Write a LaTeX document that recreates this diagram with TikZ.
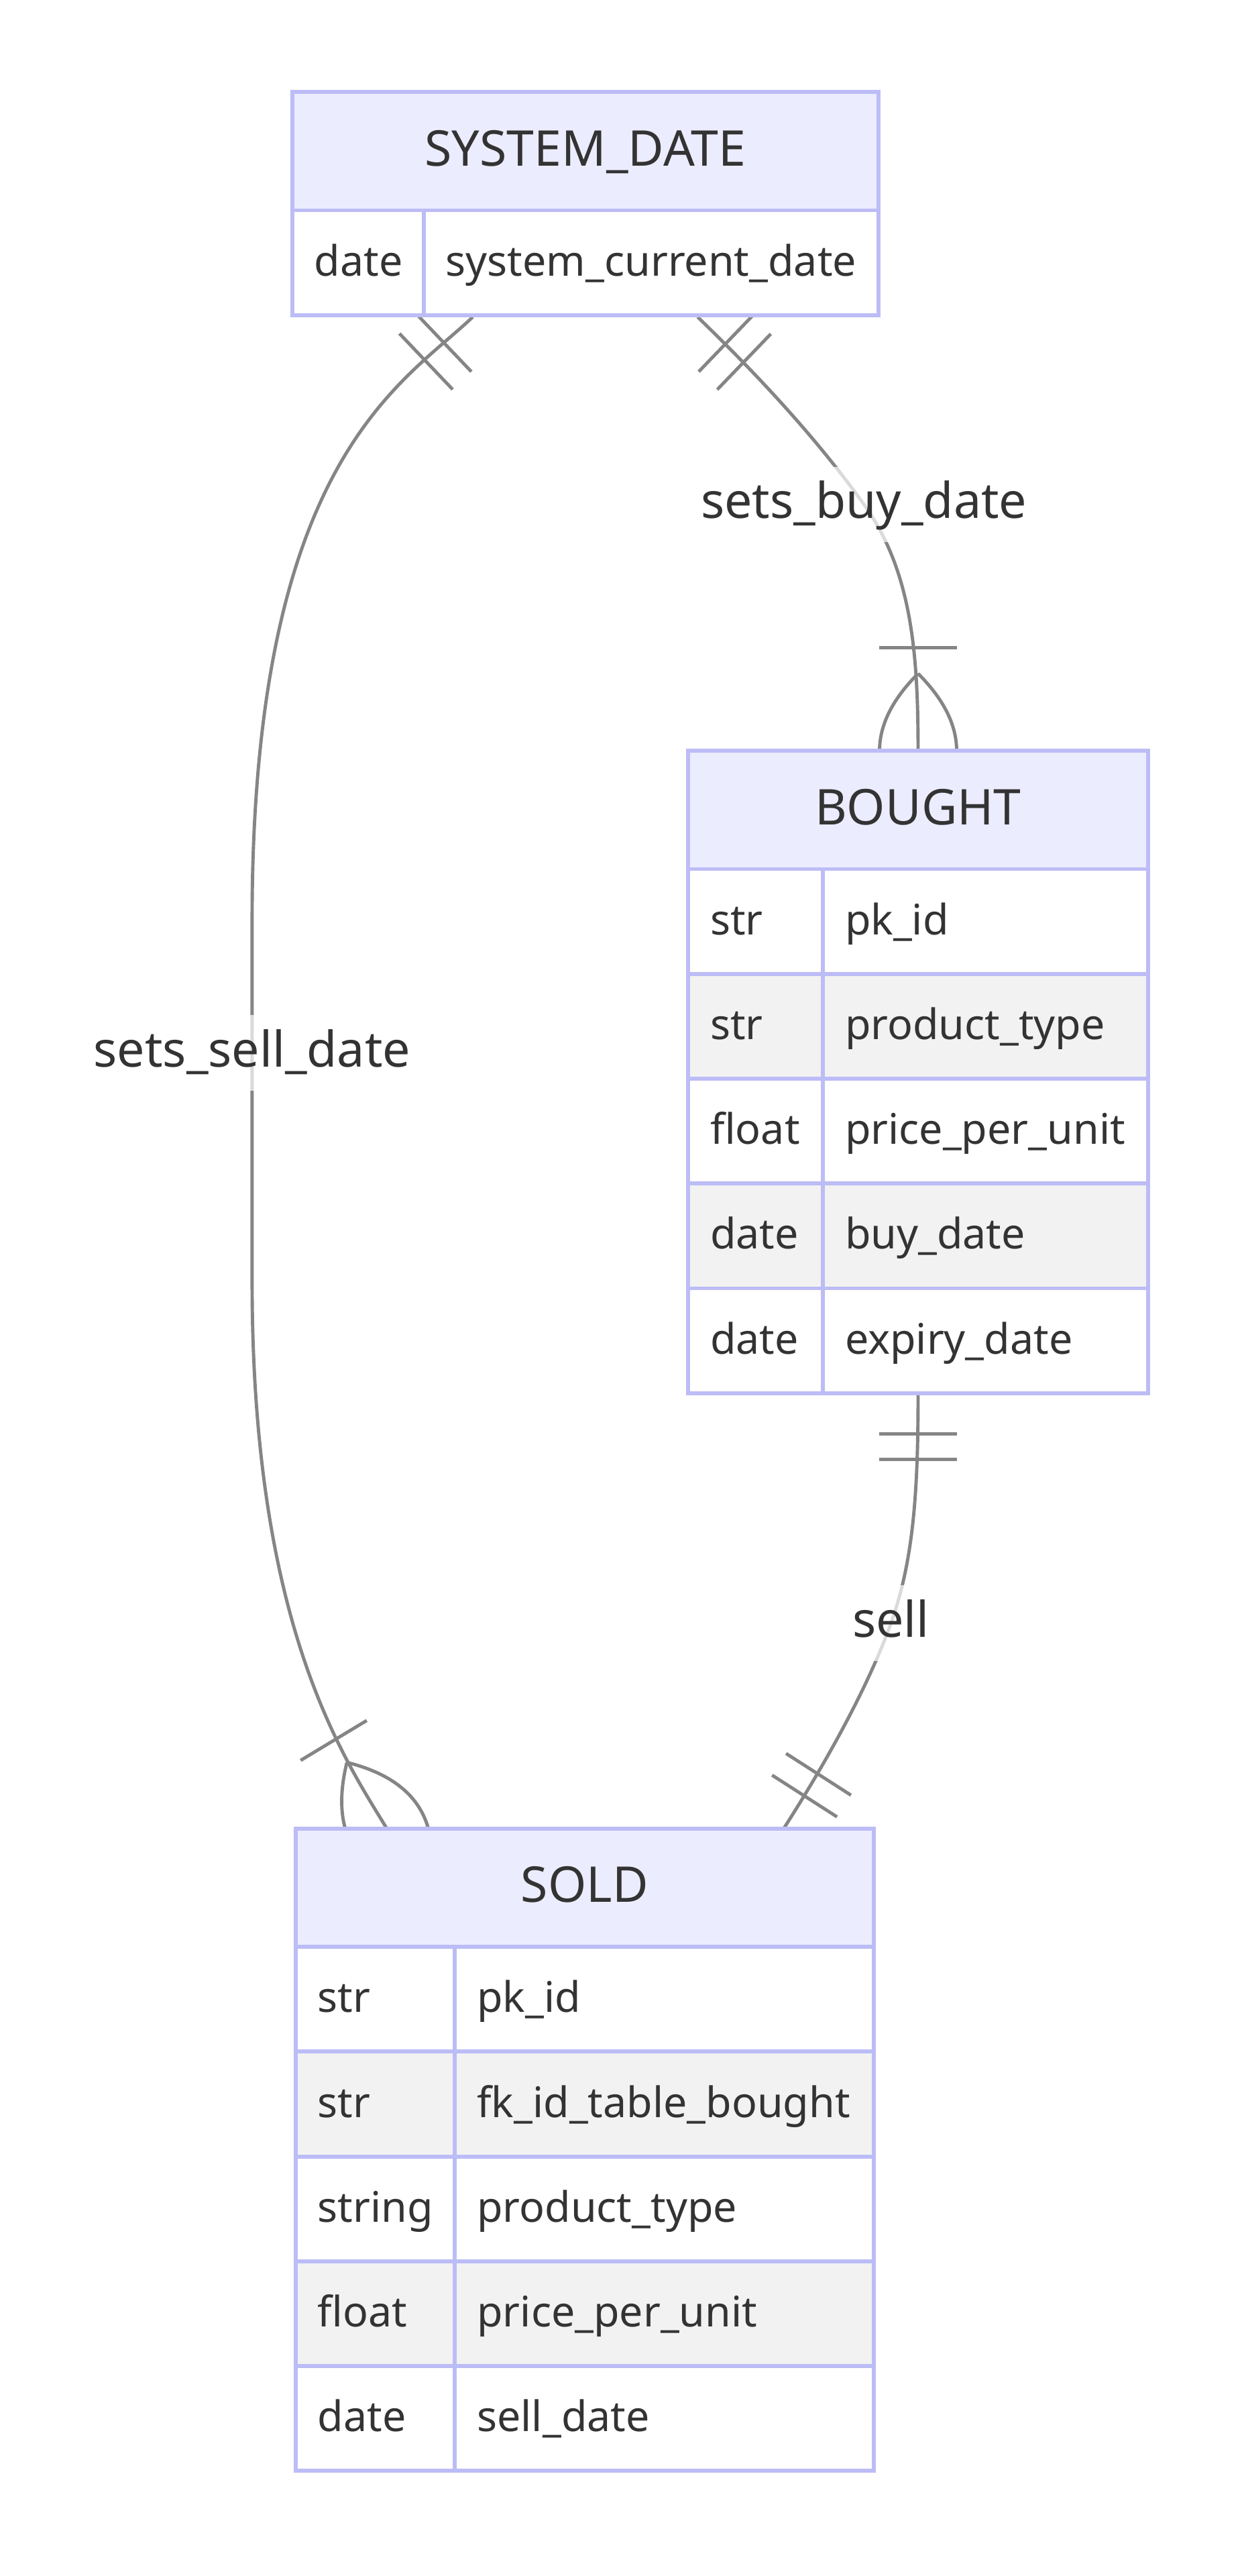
\documentclass[tikz,border=0pt]{standalone}
\usepackage{fontspec}
\setmainfont{Noto Sans}
\usetikzlibrary{matrix,positioning,calc}
\definecolor{headfill}{HTML}{ECECFF}
\definecolor{boxline}{RGB}{188,188,246}
\definecolor{rowgray}{HTML}{F2F2F2}
\definecolor{relline}{RGB}{133,133,133}
\definecolor{txt}{HTML}{333333}
\pgfdeclarelayer{bg}
\pgfsetlayers{bg,main}
\newcommand{\hf}{\fontsize{30}{36}\selectfont}
\newcommand{\af}{\fontsize{25.6}{30}\selectfont}
\tikzstyle{head} = [draw=boxline, line width=2.4pt, fill=headfill, text=txt, font=\hf, inner sep=0pt, outer sep=0pt, minimum height=72pt, text height=45pt, text depth=27pt, anchor=north west]
\tikzstyle{attrs} = [matrix of nodes, ampersand replacement=\&, inner sep=0pt, outer sep=0pt, column sep=-2.4pt, row sep=-2.4pt,%
	nodes={draw=boxline, line width=2.4pt, fill=white, text=txt, font=\af, inner xsep=13.5pt, inner ysep=0pt, outer sep=0pt, text height=39.9pt, text depth=23.9pt, align=flush left, execute at begin node={\hyphenpenalty=10000}},%
	row 2/.style={nodes={fill=rowgray}}, row 4/.style={nodes={fill=rowgray}}]
\tikzstyle{lbl} = [fill=white, fill opacity=0.7, text opacity=1, text=txt, font=\hf, inner xsep=2pt, inner ysep=0pt, text height=31.5pt, text depth=14.5pt]
\tikzstyle{rel} = [draw=relline, line width=2pt]
% exactly one: two bars, #1 end point, #2 angle pointing away from the entity
\newcommand{\oneonly}[2]{\begin{scope}[shift={(#1)}, rotate=#2]%
	\draw[rel] (23.5,-23.5) -- (23.5,23.5) (39.2,-23.5) -- (39.2,23.5);%
	\end{scope}}
% one or many: bar and crow's foot
\newcommand{\onemany}[2]{\begin{scope}[shift={(#1)}, rotate=#2]%
	\draw[rel] (62.6,-23.5) -- (62.6,23.5);%
	\draw[rel] (47,0) .. controls (15.7,31.3) and (-15.7,31.3) .. (-47,0) .. controls (-15.7,-31.3) and (15.7,-31.3) .. (47,0);%
	\end{scope}}

\begin{document}
\begin{tikzpicture}[x=1pt, y=-1pt]%
	\useasboundingbox (0,0) rectangle (756,1568);%
	% entities
	\node[head, minimum width=357pt] (sdhead) at (178,56) {SYSTEM\_DATE};%
	\matrix (sdattr) [attrs, below=-1.2pt of sdhead, column 1/.style={nodes={text width=53pt}}, column 2/.style={nodes={text width=250pt}}] {%
		date \& system\_current\_date \\%
	};%
	\node[head, minimum width=280pt] (boughth) at (419,457) {BOUGHT};%
	\matrix (boughtattr) [attrs, below=-1.2pt of boughth, column 1/.style={nodes={text width=55pt}}, column 2/.style={nodes={text width=171pt}}] {%
		str \& pk\_id \\%
		str \& product\_type \\%
		float \& price\_per\_unit \\%
		date \& buy\_date \\%
		date \& expiry\_date \\%
	};%
	\node[head, minimum width=352pt] (soldh) at (180,1113) {SOLD};%
	\matrix (soldattr) [attrs, below=-1.2pt of soldh, column 1/.style={nodes={text width=70pt}}, column 2/.style={nodes={text width=228pt}}] {%
		str \& pk\_id \\%
		str \& fk\_id\_table\_bought \\%
		string \& product\_type \\%
		float \& price\_per\_unit \\%
		date \& sell\_date \\%
	};%
	% relationship labels
	\node[lbl] (lsell) at (153.5,641) {sets\_sell\_date};%
	\node[lbl] (lbuy) at (526,307) {sets\_buy\_date};%
	\node[lbl] (lsold) at (542.5,988) {sell};%
	% connector ends
	\coordinate (sdL) at ($(sdattr.south west)+(111,0)$);%
	\coordinate (sdR) at ($(sdattr.south west)+(248,0)$);%
	\coordinate (soldL) at ($(soldh.north west)+(55.5,0)$);%
	\coordinate (soldR) at ($(soldh.north west)+(297.2,0)$);%
	\coordinate (boughtT) at (boughth.north);%
	\coordinate (boughtB) at (boughtattr.south);%
	\begin{pgfonlayer}{bg}%
		\fill[white] (0,0) rectangle (756,1568);%
		\draw[rel] (sdL) .. controls +(-43.4,41.3) and +(0,-280) .. ($(lsell.center)+(0,-81)$) -- ($(lsell.center)+(0,139)$) .. controls +(0,210) and +(-25.85,-42.8) .. (soldL);%
		\draw[rel] (sdR) .. controls +(36,34.7) and +(-29,-40.5) .. (lbuy.center) .. controls +(29,40.5) and +(0,-60) .. (boughtT);%
		\draw[rel] (boughtB) .. controls +(0,60) and +(13.5,-37.7) .. (lsold.center) .. controls +(-16.9,47.1) and +(16.2,-25.3) .. (soldR);%
		\oneonly{sdL}{223.6}%
		\oneonly{sdR}{316.1}%
		\onemany{boughtT}{90}%
		\oneonly{boughtB}{270}%
		\onemany{soldL}{121.1}%
		\oneonly{soldR}{57.3}%
	\end{pgfonlayer}%
\end{tikzpicture}
\end{document}
